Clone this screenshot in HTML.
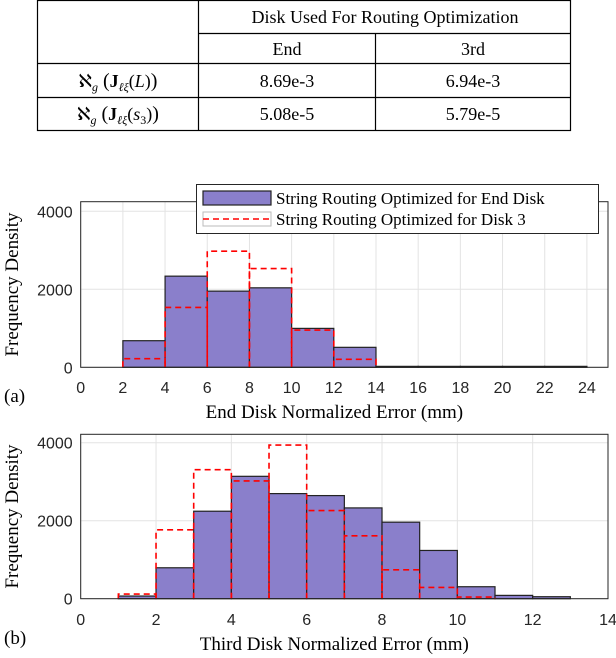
<!DOCTYPE html>
<html><head><meta charset="utf-8"><style>
body{margin:0;background:#fff;width:616px;height:658px;overflow:hidden}
svg{display:block}
.tk{font-family:"Liberation Sans",sans-serif;font-size:16px;fill:#262626}
.sf{font-family:"Liberation Serif",serif;fill:#000}
</style></head><body>
<svg id="fig" width="616" height="658" viewBox="0 0 616 658">
<g stroke="#000" stroke-width="1.2" fill="none">
<rect x="37.5" y="0.5" width="533" height="130"/>
<line x1="198.5" y1="0" x2="198.5" y2="131"/>
<line x1="375.5" y1="33" x2="375.5" y2="131"/>
<line x1="198" y1="33.5" x2="571" y2="33.5"/>
<line x1="37" y1="63.5" x2="571" y2="63.5"/>
<line x1="37" y1="97.5" x2="571" y2="97.5"/>
</g>
<g class="sf" font-size="18" text-anchor="middle">
<text x="385" y="23">Disk Used For Routing Optimization</text>
<text x="287" y="55">End</text>
<text x="473" y="55">3rd</text>
<text x="118" y="87">ℵ<tspan font-size="12" dy="4" font-style="italic">g</tspan><tspan dy="-4" font-size="20"> (</tspan><tspan font-weight="bold">J</tspan><tspan font-size="12" dy="4" font-style="italic">ℓξ</tspan><tspan dy="-4">(</tspan><tspan font-style="italic">L</tspan>)<tspan font-size="20">)</tspan></text>
<text x="118" y="120">ℵ<tspan font-size="12" dy="4" font-style="italic">g</tspan><tspan dy="-4" font-size="20"> (</tspan><tspan font-weight="bold">J</tspan><tspan font-size="12" dy="4" font-style="italic">ℓξ</tspan><tspan dy="-4">(</tspan><tspan font-style="italic">s</tspan><tspan font-size="12" dy="4">3</tspan><tspan dy="-4">)</tspan><tspan font-size="20">)</tspan></text>
<text x="287" y="87">8.69e-3</text>
<text x="473" y="87">6.94e-3</text>
<text x="287" y="120">5.08e-5</text>
<text x="473" y="120">5.79e-5</text>
</g>
<g id="chartA"></g>
<g id="chartB"></g>
</svg>
<script>
// Chart (a)
const aEdges = [2,4,6,8,10,12,14,16,18,20,22,24];
const aEndDisk = [682,2337,1953,2038,998,512,24,24,24,24,24];
const aDisk3Edges = [2,4,6,8,10,12,14];
const aDisk3 = [222,1535,2977,2533,955,205];
const aXTicks = [0,2,4,6,8,10,12,14,16,18,20,22,24];
// Chart (b)
const bEdges = [1,2,3,4,5,6,7,8,9,10,11,12,13];
const bEndDisk = [68,793,2243,3138,2695,2644,2328,1962,1237,307,85,51];
const bDisk3Edges = [1,2,3,4,5,6,7,8,9,10,11];
const bDisk3 = [119,1767,3309,3019,3940,2261,1612,740,290,43];
const bXTicks = [0,2,4,6,8,10,12,14];
const yTicks = [0,2000,4000];

const NS='http://www.w3.org/2000/svg';
function mk(parent,tag,attrs,text){const e=document.createElementNS(NS,tag);for(const k in attrs)e.setAttribute(k,attrs[k]);if(text!==undefined)e.textContent=text;parent.appendChild(e);return e;}

function drawChart(g,o){
  const L=80.7,R=608,zeroY=o.zeroY,top=o.top;
  const x=v=>L+(v-o.xmin)/(o.xmax-o.xmin)*(R-L);
  const y=v=>zeroY-v*(156/4000);
  const bg=mk(g,'rect',{x:L,y:top,width:R-L,height:zeroY-top,fill:'#fff'});
  
  
  o.xticks.forEach(t=>{
    const gl=mk(g,'line',{x1:x(t),x2:x(t),y1:top,y2:zeroY,stroke:'#e3e3e3','stroke-width':1});
    
    
    const tl=mk(g,'text',{x:x(t),y:o.tickY,'text-anchor':'middle',class:'tk'},String(t));
    
    
  });
  yTicks.forEach(t=>{
    const gl=mk(g,'line',{x1:L,x2:R,y1:y(t),y2:y(t),stroke:'#e3e3e3','stroke-width':1});
    
    
    const tl=mk(g,'text',{x:L-8,y:y(t)+6,'text-anchor':'end',class:'tk'},String(t));
    
    
  });
  o.blue.forEach((v,i)=>{
    const r=mk(g,'rect',{x:x(o.edges[i]),y:y(v),width:x(o.edges[i+1])-x(o.edges[i]),height:zeroY-y(v),fill:'#8a7fcb',stroke:'#222','stroke-width':1.2});
    
    
  });
  o.red.forEach((v,i)=>{
    const x0=x(o.redEdges[i]),x1=x(o.redEdges[i+1]);
    const p=mk(g,'path',{d:`M${x0},${zeroY}V${y(v)}H${x1}V${zeroY}`,fill:'none',stroke:'#f00','stroke-width':1.6,'stroke-dasharray':'6,4'});
    
    
  });
  const fr=mk(g,'rect',{x:L,y:top,width:R-L,height:zeroY-top,fill:'none',stroke:'#262626','stroke-width':1});
  
  
  const yt=mk(g,'text',{x:0,y:0,'text-anchor':'middle',class:'sf','font-size':19,transform:`translate(18,${(top+zeroY)/2}) rotate(-90)`},'Frequency Density');
  
  
  const xt=mk(g,'text',{x:(L+R)/2-10,y:o.titleY,'text-anchor':'middle',class:'sf','font-size':19},o.title);
  
  
  const pl=mk(g,'text',{x:4,y:o.labelY,class:'sf','font-size':19},o.panel);
  
  
}
drawChart(document.getElementById('chartA'),{xmin:0,xmax:25,zeroY:367.3,top:201.7,xticks:aXTicks,edges:aEdges,blue:aEndDisk,redEdges:aDisk3Edges,red:aDisk3,tickY:393,titleY:418,labelY:402,title:'End Disk Normalized Error (mm)',panel:'(a)'});
drawChart(document.getElementById('chartB'),{xmin:0,xmax:14,zeroY:598.7,top:434.3,xticks:bXTicks,edges:bEdges,blue:bEndDisk,redEdges:bDisk3Edges,red:bDisk3,tickY:625,titleY:650,labelY:644,title:'Third Disk Normalized Error (mm)',panel:'(b)'});

// legend
const gA=document.getElementById('chartA');
const lg=mk(gA,'g',{});


mk(lg,'rect',{x:196.5,y:184.5,width:402,height:49,fill:'#fff',stroke:'#262626','stroke-width':1});
const s1=mk(lg,'rect',{x:203,y:191,width:68,height:14,fill:'#8a7fcb',stroke:'#222','stroke-width':1.2});


const t1=mk(lg,'text',{x:276,y:204,class:'sf','font-size':17},'String Routing Optimized for End Disk');


mk(lg,'rect',{x:203,y:212,width:68,height:14,fill:'#fff',stroke:'#bbb','stroke-width':1});
const s2=mk(lg,'line',{x1:203,x2:271,y1:219,y2:219,stroke:'#f00','stroke-width':1.6,'stroke-dasharray':'6,4'});


const t2=mk(lg,'text',{x:276,y:225,class:'sf','font-size':17},'String Routing Optimized for Disk 3');


</script>
</body></html>
